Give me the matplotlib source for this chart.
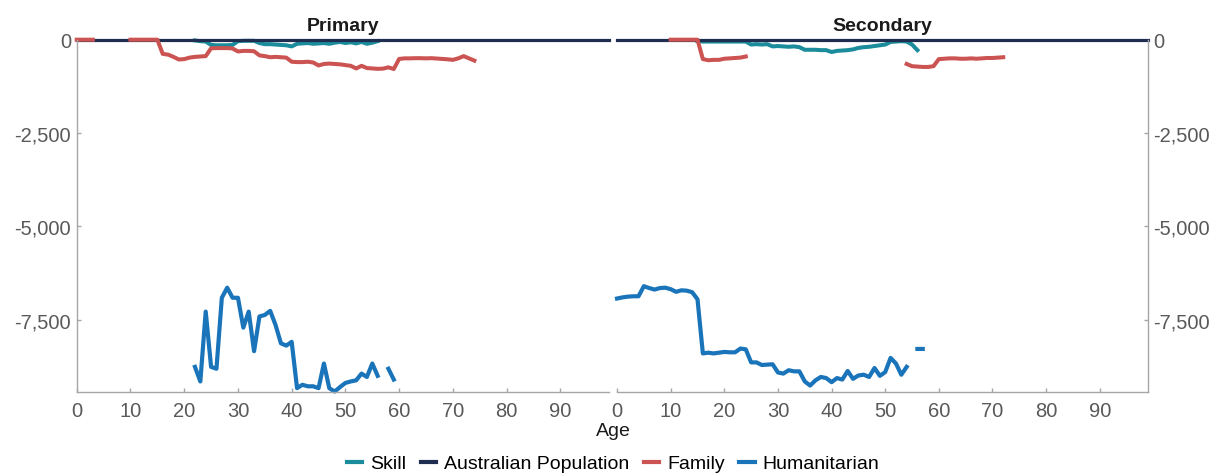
import numpy as np
import matplotlib.pyplot as plt
from matplotlib.lines import Line2D
from matplotlib.ticker import FuncFormatter

nan = np.nan

plt.rcParams['font.family'] = ['Liberation Sans', 'DejaVu Sans']
plt.rcParams['axes.unicode_minus'] = False

# series colours
c_skill = '#1A8C9B'
c_aus = '#1E2D50'
c_family = '#CB5352'
c_human = '#1A74BA'

# Australian population (reference line) - all ages
aus_age = np.arange(0, 100)
aus_val = np.zeros(100)

# ---- Primary panel ----
prim_family_age = np.arange(0, 75)
prim_family = [0, 0, 0, 0, nan, nan, nan, nan, nan, nan,
               0, 0, 0, 0, 0, 0,
               -380, -400, -460, -530, -520, -480, -460, -450, -440, -230,
               -225, -225, -225, -235, -315, -300, -300, -310, -420, -440,
               -470, -460, -470, -480, -590, -600, -600, -590, -610, -690,
               -650, -640, -650, -660, -680, -700, -770, -700, -760, -770,
               -780, -775, -740, -785, -515, -500, -500, -495, -495, -500,
               -495, -505, -515, -525, -540, -500, -440, -500, -560]

prim_skill_age = np.arange(22, 57)
prim_skill = [-20, -40, -50, -140, -150, -150, -150, -140, -40, -30,
              -30, -30, -90, -120, -120, -130, -140, -150, -180, -110,
              -100, -90, -110, -100, -90, -110, -80, -60, -90, -70,
              -100, -60, -110, -80, -40]

prim_human_age = np.arange(22, 60)
prim_human = [-8760, -9150, -7280, -8760, -8810, -6910, -6640, -6910, -6910, -7710,
              -7280, -8340, -7410, -7370, -7260, -7640, -8130, -8190, -8090, -9330,
              -9240, -9280, -9280, -9330, -8670, -9330, -9420, -9300, -9190, -9150,
              -9120, -8940, -9030, -8670, -9000, nan, -8810, -9100]

# ---- Secondary panel ----
sec_family_age = np.arange(10, 73)
sec_family = [0, 0, 0, 0, 0, 0,
              -520, -550, -540, -540, -510, -500, -490, -480, -450,
              nan, nan, nan, nan, nan, nan, nan, nan, nan, nan,
              nan, nan, nan, nan, nan, nan, nan, nan, nan, nan,
              nan, nan, nan, nan, nan, nan, nan, nan, nan,
              -650, -710, -720, -730, -730, -710, -520, -510, -500, -500,
              -510, -510, -500, -510, -500, -490, -490, -480, -470]

sec_skill_age = np.arange(15, 57)
sec_skill = [-40, -50, -50, -50, -50, -50, -50, -50, -50, -50,
             -130, -120, -130, -120, -180, -170, -180, -190, -180, -200,
             -270, -270, -270, -280, -280, -330, -300, -290, -280, -260,
             -220, -200, -190, -170, -150, -130, -60, -50, -40, -50,
             -130, -280]

sec_human_age = np.arange(0, 58)
sec_human = [-6930, -6900, -6880, -6870, -6870, -6600, -6650, -6690, -6650, -6640,
             -6680, -6750, -6710, -6720, -6760, -6950, -8400, -8380, -8400, -8380,
             -8360, -8370, -8370, -8270, -8290, -8640, -8640, -8710, -8700, -8690,
             -8910, -8940, -8850, -8880, -8880, -9150, -9260, -9120, -9030, -9060,
             -9170, -9060, -9100, -8870, -9080, -8990, -8970, -9030, -8790, -9000,
             -8900, -8520, -8670, -8970, -8760, nan, -8280, -8280]

yticks = [0, -2500, -5000, -7500]
xticks = np.arange(0, 100, 10)

fig = plt.figure(figsize=(12.26, 4.77), dpi=100)
ax1 = fig.add_axes([0.0626, 0.1771, 0.4339, 0.7376])
ax2 = fig.add_axes([0.5033, 0.1771, 0.4331, 0.7376], sharey=ax1)

panels = [
    (ax1, 'Primary', prim_skill_age, prim_skill, prim_family_age, prim_family,
     prim_human_age, prim_human),
    (ax2, 'Secondary', sec_skill_age, sec_skill, sec_family_age, sec_family,
     sec_human_age, sec_human),
]

for ax, name, sk_a, sk, fa_a, fa, hu_a, hu in panels:
    ax.plot(sk_a, sk, color=c_skill, lw=2.9, clip_on=False)
    ax.plot(aus_age, aus_val, color=c_aus, lw=2.3, clip_on=False)
    ax.plot(fa_a, fa, color=c_family, lw=2.9, clip_on=False)
    ax.plot(hu_a, hu, color=c_human, lw=3.0, clip_on=False)

    ax.set_xlim(0, 99)
    ax.set_ylim(-9420, 0)
    ax.set_xticks(xticks)
    ax.set_yticks(yticks)
    ax.yaxis.set_major_formatter(FuncFormatter(lambda v, p: f'{v:,.0f}'))
    ax.set_title(name, fontsize=14, fontweight='bold', color='#1a1a1a', pad=7)
    ax.tick_params(direction='in', length=3, width=1, color='#A6A6A6',
                   labelcolor='#595959', labelsize=14.5)
    ax.tick_params(axis='x', pad=7)
    for s in ax.spines.values():
        s.set_color('#A6A6A6')
        s.set_linewidth(1.0)
    ax.spines['top'].set_visible(False)

ax1.spines['right'].set_visible(False)
ax1.tick_params(axis='y', pad=4)
ax2.spines['left'].set_visible(False)
ax2.yaxis.tick_right()
ax2.tick_params(axis='y', which='both', left=False, labelleft=False,
                right=True, labelright=True, pad=4)

fig.text(0.5, 0.096, 'Age', ha='center', va='center', fontsize=14, color='#1a1a1a')

handles = [Line2D([], [], color=c, lw=3) for c in (c_skill, c_aus, c_family, c_human)]
labels = ['Skill', 'Australian Population', 'Family', 'Humanitarian']
fig.legend(handles, labels, loc='center', bbox_to_anchor=(0.5, 0.026), ncol=4,
           frameon=False, fontsize=14, handlelength=0.8, handletextpad=0.4,
           columnspacing=0.75, borderpad=0)

fig.savefig('out.png', dpi=100)
